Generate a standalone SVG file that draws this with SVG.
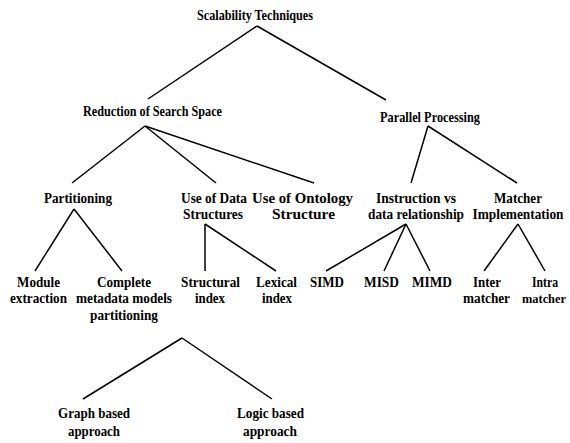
<svg xmlns="http://www.w3.org/2000/svg" width="570" height="443" viewBox="0 0 570 443">
<style>
.c line{stroke:#000;stroke-width:1.5;stroke-linecap:butt}
</style>
<rect width="570" height="443" fill="#fff"/>
<g class="c" id="connectors">
<line x1="257" y1="26" x2="148" y2="99"/>
<line x1="257" y1="26" x2="386" y2="100"/>
<line x1="145" y1="126" x2="72" y2="183"/>
<line x1="145" y1="126" x2="216" y2="183"/>
<line x1="145" y1="126" x2="314" y2="183"/>
<line x1="428" y1="126" x2="411" y2="183"/>
<line x1="428" y1="126" x2="517" y2="183"/>
<line x1="74" y1="209" x2="35" y2="271"/>
<line x1="74" y1="209" x2="122" y2="271"/>
<line x1="205" y1="224" x2="205" y2="271"/>
<line x1="205" y1="224" x2="276" y2="271"/>
<line x1="406" y1="224" x2="326" y2="271"/>
<line x1="406" y1="224" x2="384" y2="271"/>
<line x1="406" y1="224" x2="430" y2="271"/>
<line x1="518" y1="224" x2="484" y2="271"/>
<line x1="518" y1="224" x2="545" y2="271"/>
<line x1="182" y1="338" x2="83" y2="399"/>
<line x1="182" y1="338" x2="272" y2="399"/>
</g>
<g id="labels" font-family="'Liberation Serif', 'Times New Roman', serif" font-weight="bold" font-size="15" fill="#000" text-anchor="middle">
<g id="root"><text x="255" y="20" textLength="116" lengthAdjust="spacingAndGlyphs">Scalability Techniques</text></g>
<g id="reduction"><text x="152.5" y="116" textLength="139" lengthAdjust="spacingAndGlyphs">Reduction of Search Space</text></g>
<g id="parallel"><text x="430" y="122" textLength="100" lengthAdjust="spacingAndGlyphs">Parallel Processing</text></g>
<g id="partitioning"><text x="78" y="203" textLength="68" lengthAdjust="spacingAndGlyphs">Partitioning</text></g>
<g id="datastructures"><text x="214" y="203" textLength="66" lengthAdjust="spacingAndGlyphs">Use of Data</text><text x="213" y="219" textLength="60" lengthAdjust="spacingAndGlyphs">Structures</text></g>
<g id="ontology"><text x="302.5" y="203" textLength="101" lengthAdjust="spacingAndGlyphs">Use of Ontology</text><text x="303.5" y="219" textLength="63" lengthAdjust="spacingAndGlyphs">Structure</text></g>
<g id="instruction"><text x="416" y="203" textLength="80" lengthAdjust="spacingAndGlyphs">Instruction vs</text><text x="416" y="219" textLength="96" lengthAdjust="spacingAndGlyphs">data relationship</text></g>
<g id="matcher"><text x="518" y="203" textLength="48" lengthAdjust="spacingAndGlyphs">Matcher</text><text x="518" y="219" font-size="14" textLength="91" lengthAdjust="spacingAndGlyphs">Implementation</text></g>
<g id="module"><text x="38.5" y="287" textLength="43" lengthAdjust="spacingAndGlyphs">Module</text><text x="38.5" y="303" textLength="57" lengthAdjust="spacingAndGlyphs">extraction</text></g>
<g id="complete"><text x="124" y="287" textLength="54" lengthAdjust="spacingAndGlyphs">Complete</text><text x="124" y="303" textLength="96" lengthAdjust="spacingAndGlyphs">metadata models</text><text x="124" y="320" textLength="68" lengthAdjust="spacingAndGlyphs">partitioning</text></g>
<g id="structural"><text x="210.5" y="287" textLength="59" lengthAdjust="spacingAndGlyphs">Structural</text><text x="210" y="303" textLength="30" lengthAdjust="spacingAndGlyphs">index</text></g>
<g id="lexical"><text x="276.5" y="287" textLength="41" lengthAdjust="spacingAndGlyphs">Lexical</text><text x="277" y="303" textLength="30" lengthAdjust="spacingAndGlyphs">index</text></g>
<g id="simd"><text x="327" y="287" textLength="34" lengthAdjust="spacingAndGlyphs">SIMD</text></g>
<g id="misd"><text x="381.5" y="287" textLength="35" lengthAdjust="spacingAndGlyphs">MISD</text></g>
<g id="mimd"><text x="432" y="287" textLength="40" lengthAdjust="spacingAndGlyphs">MIMD</text></g>
<g id="inter"><text x="487" y="287" textLength="28" lengthAdjust="spacingAndGlyphs">Inter</text><text x="486.5" y="303" textLength="47" lengthAdjust="spacingAndGlyphs">matcher</text></g>
<g id="intra"><text x="545" y="287" textLength="26" lengthAdjust="spacingAndGlyphs">Intra</text><text x="544" y="303" font-size="13" textLength="44" lengthAdjust="spacingAndGlyphs">matcher</text></g>
<g id="graph"><text x="94" y="418" textLength="72" lengthAdjust="spacingAndGlyphs">Graph based</text><text x="94" y="436" textLength="52" lengthAdjust="spacingAndGlyphs">approach</text></g>
<g id="logic"><text x="270.5" y="418" textLength="67" lengthAdjust="spacingAndGlyphs">Logic based</text><text x="270" y="436" textLength="54" lengthAdjust="spacingAndGlyphs">approach</text></g>
</g>
</svg>
